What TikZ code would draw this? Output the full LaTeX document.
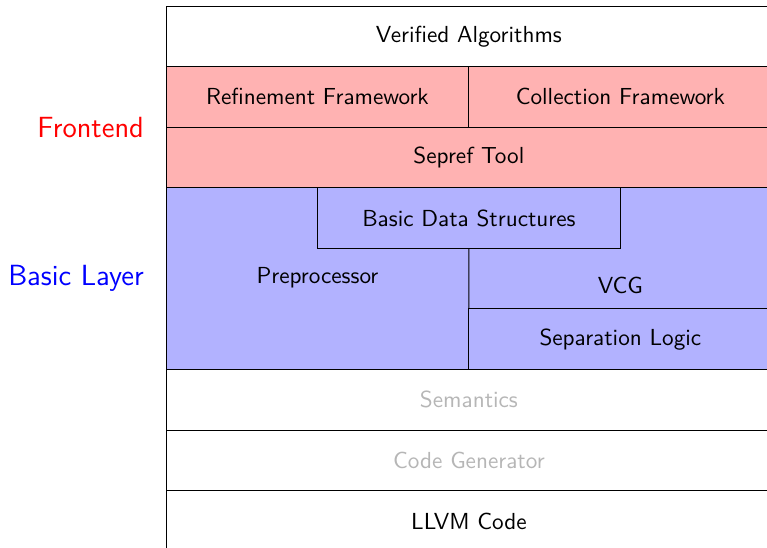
\documentclass[tikz,border=0pt]{standalone}
\usepackage{tikz}
\usetikzlibrary{positioning}
\definecolor{frontred}{RGB}{255,178,178}
\definecolor{basicblue}{RGB}{178,178,255}
\definecolor{greytext}{RGB}{182,182,182}

\begin{document}
\begin{tikzpicture}[
            font=\sffamily\fontsize{10.9}{13}\selectfont,
            layer/.style={draw, minimum width=10cm, minimum height=1cm,
                outer sep=0pt, inner sep=0pt},
            half/.style={layer, minimum width=5cm},
            lbl/.style={font=\sffamily\fontsize{13.7}{16}\selectfont, anchor=east, inner sep=0pt}
          ]
          \useasboundingbox (-2.74,0.099) rectangle (9.92,-8.94);
          \clip (-2.74,0.099) rectangle (9.92,-8.94);
          % upper part
          \node[layer] (alg) at (5,-0.5) {Verified Algorithms};
          \node[half, fill=frontred, anchor=north west] (refine) at (alg.south west) {Refinement Framework};
          \node[half, fill=frontred, right=0pt of refine] (coll) {Collection Framework};
          \node[layer, fill=frontred, anchor=north] (sepref) at (refine.south east) {Sepref Tool};
          % basic layer
          \fill[basicblue] (sepref.south west) rectangle ++(10,-3);
          \node[half, fill=basicblue, below=0pt of sepref] (bds) {Basic Data Structures};
          \node[half, fill=basicblue, anchor=north west] (seplog) at (5,-5) {Separation Logic};
          \node (vcg) at (7.5,-4.62) {VCG};
          \node (prep) at (2.5,-4.49) {Preprocessor};
          \coordinate (split) at (bds.south);
          \draw (split) -- (seplog.north west);
          \draw (sepref.south west) -- ++(0,-3);
          % lower part
          \node[layer, below=3cm of sepref, text=greytext] (sem) {Semantics};
          \node[layer, below=0pt of sem, text=greytext] (codegen) {Code Generator};
          \node[layer, below=0pt of codegen] (llvm) {LLVM Code};
          % side labels
          \node[lbl, text=red] (front) at (-0.36,-2) {Frontend};
          \node[lbl, text=blue] (basic) at (-0.36,-4.5) {Basic Layer};
        \end{tikzpicture}
\end{document}
